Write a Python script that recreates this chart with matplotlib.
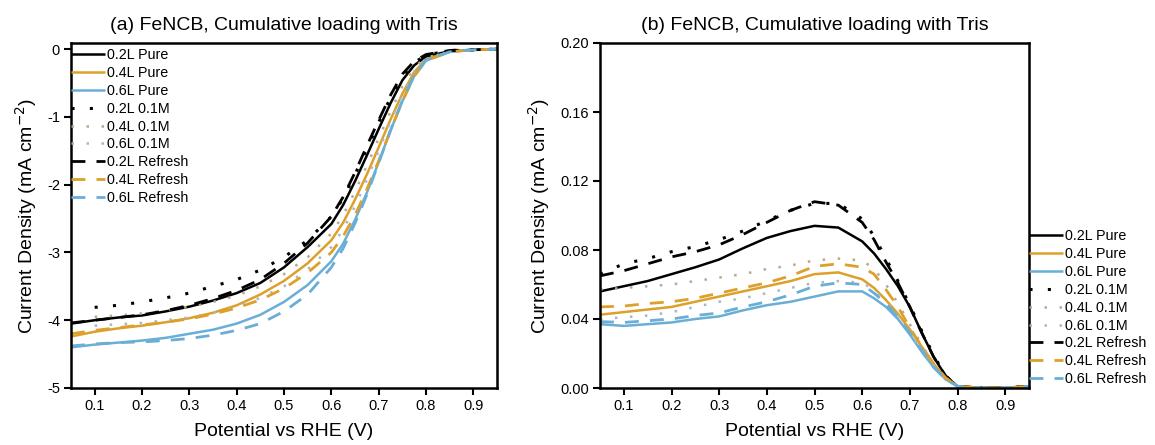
import numpy as np
import matplotlib
matplotlib.use("Agg")
import matplotlib.pyplot as plt

plt.rcParams["font.family"] = ["Liberation Sans", "DejaVu Sans"]

# ── Data ──────────────────────────────────────────────────────────────────────
nan = np.nan
POT = [0.05, 0.1, 0.15, 0.2, 0.25, 0.3, 0.35, 0.4, 0.45, 0.5, 0.55, 0.6,
       0.625, 0.65, 0.675, 0.7, 0.725, 0.75, 0.775, 0.8, 0.85, 0.9, 0.95]

# (a) disk current density, mA cm-2
a_02_pure = [-4.05, -4.0, -3.96, -3.93, -3.87, -3.8, -3.71, -3.6, -3.45, -3.22, -2.92, -2.58,
             -2.3, -1.95, -1.57, -1.18, -0.8, -0.46, -0.24, -0.11, -0.03, -0.01, 0.0]
a_04_pure = [-4.24, -4.17, -4.12, -4.08, -4.03, -3.97, -3.89, -3.78, -3.62, -3.42, -3.16, -2.82,
             -2.56, -2.22, -1.85, -1.45, -1.04, -0.66, -0.34, -0.15, -0.04, -0.01, 0.0]
a_06_pure = [-4.4, -4.36, -4.33, -4.3, -4.26, -4.2, -4.14, -4.05, -3.92, -3.73, -3.48, -3.13,
             -2.87, -2.52, -2.12, -1.67, -1.2, -0.77, -0.4, -0.17, -0.04, -0.01, 0.0]
a_02_01m = [nan, -3.81, -3.78, -3.73, -3.67, -3.6, -3.5, -3.4, -3.26, -3.07, -2.82, -2.47,
            -2.2, -1.85, -1.47, -1.08, -0.72, -0.4, -0.2, -0.09, -0.02, -0.01, 0.0]
a_04_01m = [nan, -3.95, -3.93, -3.9, -3.86, -3.8, -3.73, -3.64, -3.5, -3.32, -3.07, -2.72,
            -2.45, -2.1, -1.72, -1.32, -0.92, -0.55, -0.27, -0.12, -0.03, -0.01, 0.0]
a_06_01m = [nan, -4.08, -4.06, -4.04, -4.0, -3.96, -3.89, -3.8, -3.67, -3.5, -3.25, -2.92,
            -2.66, -2.32, -1.93, -1.5, -1.06, -0.66, -0.33, -0.14, -0.03, -0.01, 0.0]
a_02_ref = [-4.04, -4.0, -3.96, -3.92, -3.86, -3.78, -3.68, -3.56, -3.4, -3.16, -2.86, -2.47,
            -2.18, -1.82, -1.43, -1.05, -0.68, -0.37, -0.18, -0.08, -0.02, -0.01, 0.0]
a_04_ref = [-4.2, -4.15, -4.11, -4.07, -4.03, -3.98, -3.91, -3.82, -3.7, -3.53, -3.3, -3.0,
            -2.76, -2.45, -2.07, -1.65, -1.2, -0.77, -0.4, -0.17, -0.04, -0.01, 0.0]
a_06_ref = [-4.38, -4.35, -4.33, -4.32, -4.3, -4.27, -4.22, -4.15, -4.05, -3.87, -3.62, -3.22,
            -2.94, -2.57, -2.15, -1.68, -1.2, -0.76, -0.39, -0.16, -0.04, -0.01, 0.0]

# (b) ring current density, mA cm-2
b_02_pure = [0.056, 0.059, 0.062, 0.066, 0.070, 0.0745, 0.081, 0.087, 0.091, 0.094, 0.093, 0.085,
             0.078, 0.069, 0.059, 0.047, 0.032, 0.018, 0.007, 0.001, 0.0, 0.0, 0.001]
b_04_pure = [0.0425, 0.044, 0.0455, 0.047, 0.050, 0.053, 0.056, 0.059, 0.062, 0.066, 0.067, 0.063,
             0.058, 0.051, 0.043, 0.034, 0.024, 0.014, 0.006, 0.001, 0.0, 0.0, 0.001]
b_06_pure = [0.037, 0.036, 0.037, 0.038, 0.040, 0.0415, 0.045, 0.048, 0.050, 0.053, 0.056, 0.056,
             0.052, 0.047, 0.040, 0.031, 0.021, 0.012, 0.005, 0.001, 0.0, 0.0, 0.001]
b_02_01m = [0.066, 0.072, 0.075, 0.079, 0.082, 0.086, 0.091, 0.097, 0.103, 0.107, 0.107, 0.098,
            0.088, 0.075, 0.062, 0.048, 0.033, 0.019, 0.007, 0.001, 0.0, 0.0, 0.001]
b_04_01m = [0.057, 0.058, 0.059, 0.060, 0.062, 0.064, 0.066, 0.069, 0.071, 0.074, 0.075, 0.074,
            0.069, 0.060, 0.049, 0.037, 0.025, 0.014, 0.006, 0.001, 0.0, 0.0, 0.001]
b_06_01m = [0.040, 0.041, 0.042, 0.044, 0.047, 0.050, 0.052, 0.055, 0.058, 0.061, 0.062, 0.061,
            0.057, 0.050, 0.042, 0.032, 0.022, 0.013, 0.005, 0.001, 0.0, 0.0, 0.001]
b_02_ref = [0.065, 0.068, 0.072, 0.076, 0.079, 0.083, 0.089, 0.096, 0.103, 0.108, 0.106, 0.096,
            0.086, 0.073, 0.061, 0.047, 0.032, 0.018, 0.007, 0.001, 0.0, 0.0, 0.001]
b_04_ref = [0.047, 0.0475, 0.049, 0.050, 0.052, 0.055, 0.058, 0.061, 0.065, 0.0705, 0.072, 0.070,
            0.066, 0.057, 0.047, 0.035, 0.024, 0.014, 0.006, 0.001, 0.0, 0.0, 0.001]
b_06_ref = [0.0385, 0.038, 0.039, 0.040, 0.042, 0.0435, 0.047, 0.050, 0.054, 0.059, 0.061, 0.060,
            0.055, 0.049, 0.041, 0.032, 0.022, 0.012, 0.005, 0.001, 0.0, 0.0, 0.001]

LABELS = ["0.2L Pure", "0.4L Pure", "0.6L Pure",
          "0.2L 0.1M", "0.4L 0.1M", "0.6L 0.1M",
          "0.2L Refresh", "0.4L Refresh", "0.6L Refresh"]
SERIES_A = [a_02_pure, a_04_pure, a_06_pure, a_02_01m, a_04_01m, a_06_01m,
            a_02_ref, a_04_ref, a_06_ref]
SERIES_B = [b_02_pure, b_04_pure, b_06_pure, b_02_01m, b_04_01m, b_06_01m,
            b_02_ref, b_04_ref, b_06_ref]

# ── Styles ────────────────────────────────────────────────────────────────────
BLACK, ORANGE, BLUE = "#000000", "#DDA02A", "#6AAED6"
STYLES = [
    dict(color=BLACK, lw=1.8, ls="-"),
    dict(color=ORANGE, lw=1.8, ls="-"),
    dict(color=BLUE, lw=1.8, ls="-"),
    dict(color=BLACK, lw=2.2, ls=(0, (1, 5))),
    dict(color="#B9A98C", lw=1.8, ls=(0, (1, 5))),
    dict(color="#A9B6C6", lw=1.8, ls=(0, (1, 5))),
    dict(color=BLACK, lw=2.0, ls=(0, (5, 4))),
    dict(color=ORANGE, lw=2.0, ls=(0, (5, 4))),
    dict(color=BLUE, lw=2.0, ls=(0, (5, 4))),
]

fig = plt.figure(figsize=(11.55, 4.45), dpi=100)
ax_a = fig.add_axes([71 / 1155, 57 / 445, 426 / 1155, 345 / 445])
ax_b = fig.add_axes([600 / 1155, 57 / 445, 429 / 1155, 345 / 445])

for ax, series in ((ax_a, SERIES_A), (ax_b, SERIES_B)):
    for y, lab, st in zip(series, LABELS, STYLES):
        ax.plot(POT, y, label=lab, solid_capstyle="butt", dash_capstyle="butt", **st)
    ax.set_xlim(0.05, 0.95)
    ax.set_xticks(np.arange(0.1, 0.91, 0.1))
    ax.set_xticklabels([f"{v:.1f}" for v in np.arange(0.1, 0.91, 0.1)])
    ax.tick_params(direction="out", length=5, width=1.5, labelsize=10.5, pad=3)
    for sp in ax.spines.values():
        sp.set_linewidth(1.8)
    ax.set_xlabel("Potential vs RHE (V)", fontsize=14, labelpad=7)
    ax.set_ylabel("Current Density (mA cm$^{-2}$)", fontsize=14, labelpad=6)

ax_a.set_ylim(-5, 0.09)
ax_a.set_yticks([0, -1, -2, -3, -4, -5])
ax_a.set_yticklabels(["0", "-1", "-2", "-3", "-4", "-5"])
ax_a.set_title("(a) FeNCB, Cumulative loading with Tris", fontsize=14, pad=9)

ax_b.set_ylim(0, 0.2)
ax_b.set_yticks([0, 0.04, 0.08, 0.12, 0.16, 0.2])
ax_b.set_yticklabels(["0.00", "0.04", "0.08", "0.12", "0.16", "0.20"])
ax_b.set_title("(b) FeNCB, Cumulative loading with Tris", fontsize=14, pad=9)

leg_kw = dict(frameon=False, fontsize=10.3, handlelength=2.4, handletextpad=0.15,
              labelspacing=0.27, borderpad=0, borderaxespad=0)
ax_a.legend(loc="upper left", bbox_to_anchor=(0.0, 0.985), **leg_kw)
ax_b.legend(loc="upper left", bbox_to_anchor=(1.0, 0.46), **leg_kw)

fig.savefig("out.png", dpi=100)
